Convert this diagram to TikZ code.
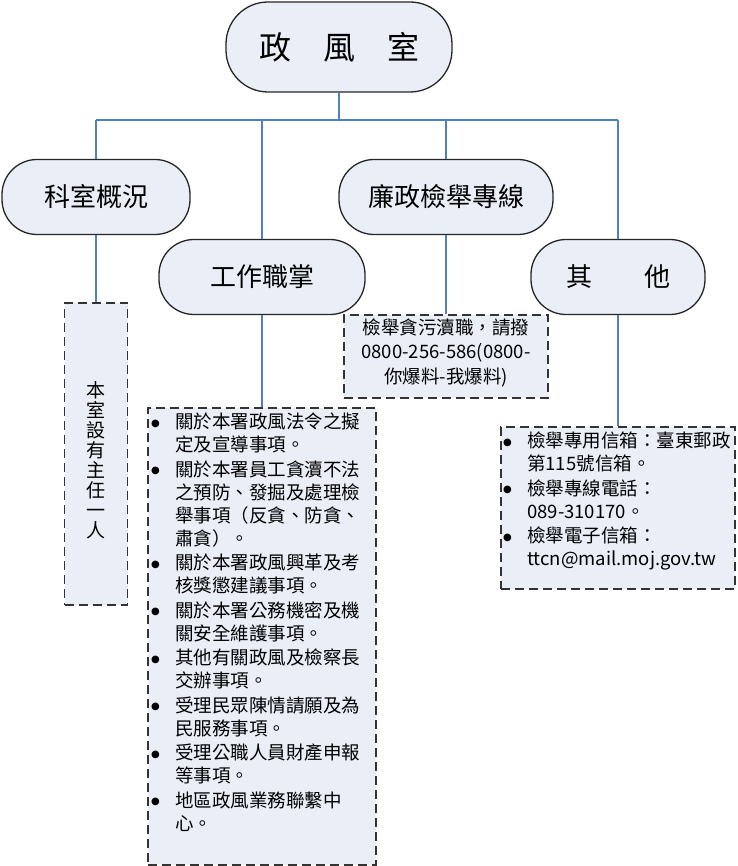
\documentclass[tikz,border=0pt]{standalone}
\usepackage{fontspec}
\setmainfont{Noto Sans CJK TC}
\newfontfamily\symfont{DejaVu Sans}
\definecolor{boxfill}{RGB}{233,238,247}
\definecolor{linkblue}{RGB}{79,129,189}
\tikzset{
  unit/.style={draw=black!85, line width=1.3pt, fill=boxfill, rounded corners=35pt,
    minimum height=75pt, inner sep=0pt, font=\fontsize{26}{30}\selectfont},
  notebox/.style={draw=black!80, line width=1.6pt, dash pattern=on 9pt off 5pt,
    fill=boxfill, inner sep=0pt},
  link/.style={draw=linkblue, line width=1.3pt},
  listtext/.style={align=left, inner sep=0pt, font=\fontsize{18.5}{23}\selectfont},
}
\newcommand{\bul}{\makebox[24pt][l]{\raisebox{2.5pt}{\symfont\fontsize{10}{10}\selectfont ●}}}
\newcommand{\ind}{\hspace*{24pt}}
\begin{document}
\begin{tikzpicture}[x=1pt,y=1pt]
\useasboundingbox (0,0) rectangle (737,-866);
% units
\node[unit, minimum width=226pt, minimum height=90pt, rounded corners=42pt,
  font=\fontsize{32}{36}\selectfont] (office) at (339,-47) {政　風　室};
\node[unit, minimum width=188pt] (status) at (96,-197) {科室概況};
\node[unit, minimum width=214pt] (hotline) at (446,-197) {廉政檢舉專線};
\node[unit, minimum width=206pt] (duty) at (262,-277) {工作職掌};
\node[unit, minimum width=174pt] (other) at (618,-277) {其　　他};
% notes
\node[notebox, minimum width=63pt, minimum height=302pt] (statusnote) at (96,-454) {};
\node[notebox, minimum width=204pt, minimum height=83pt] (hotlinenote) at (446,-356.5) {};
\node[notebox, minimum width=228pt, minimum height=457pt, anchor=north] (dutynote) at (262,-407) {};
\node[notebox, minimum width=234pt, minimum height=162pt, anchor=north] (othernote) at (618,-426) {};
% texts in the notes
\node[align=center, inner sep=0pt, font=\fontsize{19}{20}\selectfont] (statustext) at (96,-460)
  {本\\室\\設\\有\\主\\任\\一\\人};
\node[align=center, inner sep=0pt, font=\fontsize{18.5}{24.5}\selectfont] (hotlinetext) at (446,-352.5)
  {檢舉貪污瀆職，請撥\\0800-256-586(0800-\\你爆料-我爆料)};
\node[listtext, anchor=north west] (dutylist) at (151,-413) {%
  \bul 關於本署政風法令之擬\\
  \ind 定及宣導事項。\\[1.5pt]
  \bul 關於本署員工貪瀆不法\\
  \ind 之預防、發掘及處理檢\\
  \ind 舉事項（反貪、防貪、\\
  \ind 肅貪）。\\[1.5pt]
  \bul 關於本署政風興革及考\\
  \ind 核獎懲建議事項。\\[1.5pt]
  \bul 關於本署公務機密及機\\
  \ind 關安全維護事項。\\[1.5pt]
  \bul 其他有關政風及檢察長\\
  \ind 交辦事項。\\[1.5pt]
  \bul 受理民眾陳情請願及為\\
  \ind 民服務事項。\\[1.5pt]
  \bul 受理公職人員財產申報\\
  \ind 等事項。\\[1.5pt]
  \bul 地區政風業務聯繫中\\
  \ind 心。};
\node[listtext, anchor=north west] (otherlist) at (503,-432) {%
  \bul 檢舉專用信箱：臺東郵政\\
  \ind 第115號信箱。\\[1.5pt]
  \bul 檢舉專線電話：\\
  \ind 089-310170。\\[1.5pt]
  \bul 檢舉電子信箱：\\
  \ind ttcn@mail.moj.gov.tw};
% links
\coordinate (busL) at (96,-120);
\coordinate (busR) at (618,-120);
\draw[link] (office.south) -- (office.south |- busL);
\draw[link] (busL) -- (busR);
\draw[link] (busL) -- (status.north);
\draw[link] (duty.north |- busL) -- (duty.north);
\draw[link] (hotline.north |- busL) -- (hotline.north);
\draw[link] (busR) -- (other.north);
\draw[link] (status.south) -- (statusnote.north);
\draw[link] (duty.south) -- (dutynote.north);
\draw[link] (hotline.south) -- (hotlinenote.north);
\draw[link] (other.south) -- (othernote.north);
\end{tikzpicture}
\end{document}
